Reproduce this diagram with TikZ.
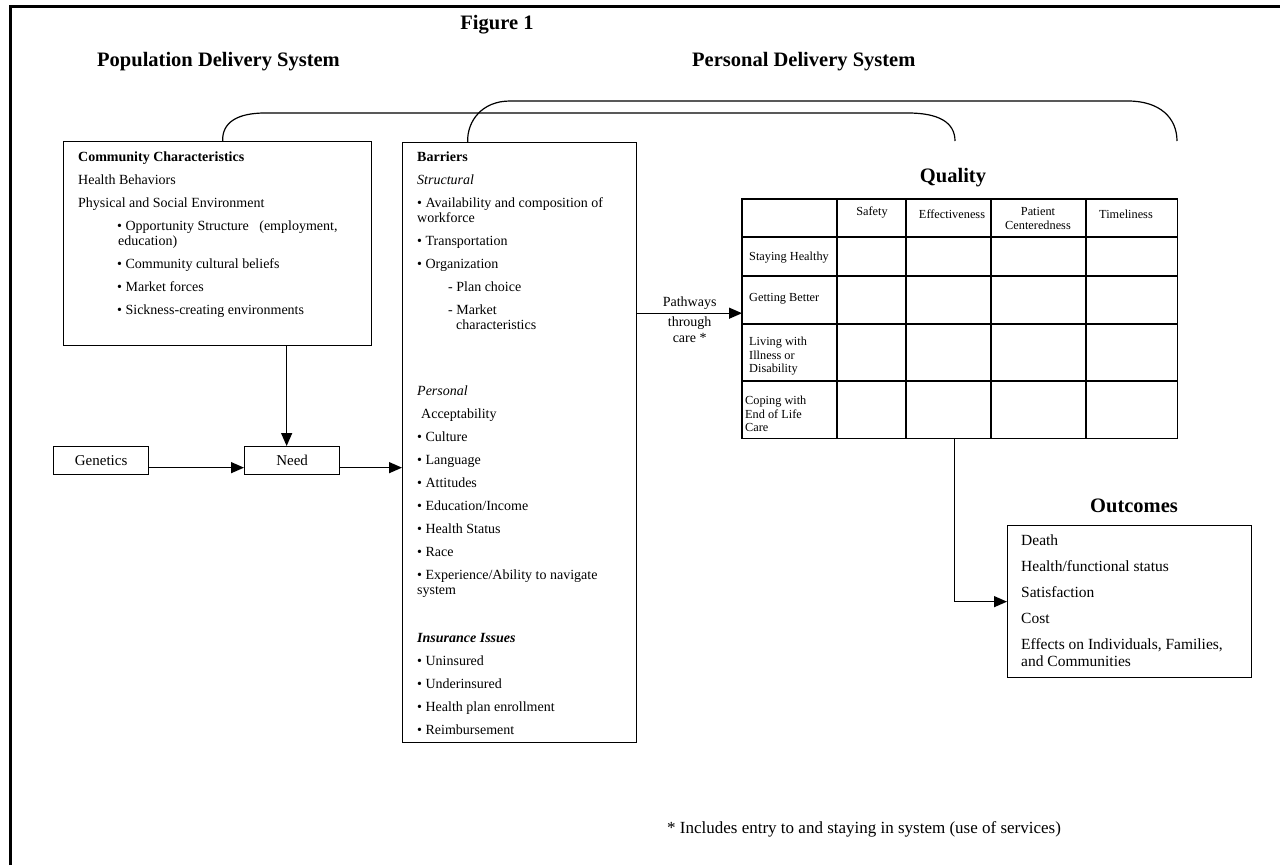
\documentclass[tikz,border=0pt]{standalone}
\usepackage{fontspec}
\setmainfont{Liberation Serif}
\usetikzlibrary{arrows.meta}
\newcommand{\bodyfont}{\fontsize{14}{15}\selectfont}
\newcommand{\headfont}{\fontsize{20.5}{24}\selectfont\bfseries}
\newcommand{\cellfont}{\fontsize{12.3}{13.5}\selectfont}
\newcommand{\outfont}{\fontsize{15.5}{17}\selectfont}
\tikzset{
  box/.style={draw, line width=1.3pt, inner sep=0pt},
  txt/.style={inner sep=0pt, align=left, font=\bodyfont},
  flow/.style={line width=1.3pt, -{Triangle[length=13pt,width=11pt]}},
  bracket/.style={line width=1.2pt},
  tblline/.style={line width=1.8pt},
}

\begin{document}
\begin{tikzpicture}[x=1pt,y=-1pt]
            \useasboundingbox (0,0) rectangle (1280,865);
            % Frame
            \draw[line width=3pt] (10,865) -- (10,6) -- (1280,6);

            % Headings
            \node[font=\headfont] (fig) at (497,25) {Figure 1};
            \node[font=\headfont, anchor=west, inner sep=0pt] (popl) at (97,62) {Population Delivery System};
            \node[font=\headfont, anchor=west, inner sep=0pt] (pers) at (692,62) {Personal Delivery System};

            % Boxes
            \node[box, minimum width=308pt, minimum height=204pt, anchor=north west] (comm) at (63,141) {};
            \node[box, minimum width=234pt, minimum height=600pt, anchor=north west] (barr) at (402,142) {};
            \node[box, minimum width=95pt, minimum height=28pt, anchor=north west, font=\fontsize{15}{17}\selectfont] (gen) at (53,446) {Genetics};
            \node[box, minimum width=95pt, minimum height=28pt, anchor=north west, font=\fontsize{15}{17}\selectfont] (need) at (244,446) {Need};
            \node[box, minimum width=244pt, minimum height=152pt, anchor=north west] (outc) at (1007,525) {};

            % Box texts
            \node[txt, anchor=north west] (commtxt) at (78,151.5) {\textbf{Community Characteristics}\\[8pt]
              Health Behaviors\\[8pt]
              Physical and Social Environment\\[8pt]
              \hspace*{39pt}• Opportunity Structure\ \ \ (employment,\\
              \hspace*{40pt}education)\\[8pt]
              \hspace*{39pt}• Community cultural beliefs\\[8pt]
              \hspace*{39pt}• Market forces\\[8pt]
              \hspace*{39pt}• Sickness-creating environments};
            \node[txt, anchor=north west] (barrtxt) at (417,151.5) {\textbf{Barriers}\\[8pt]
              \textit{Structural}\\[8pt]
              • Availability and composition of\\
              workforce\\[8pt]
              • Transportation\\[8pt]
              • Organization\\[8pt]
              \hspace*{31pt}- Plan choice\\[8pt]
              \hspace*{31pt}- Market\\
              \hspace*{39pt}characteristics\\[51pt]
              \textit{Personal}\\[8pt]
              \hspace*{4pt}Acceptability\\[8pt]
              • Culture\\[8pt]
              • Language\\[8pt]
              • Attitudes\\[8pt]
              • Education/Income\\[8pt]
              • Health Status\\[8pt]
              • Race\\[8pt]
              • Experience/Ability to navigate\\
              system\\[33pt]
              \textbf{\textit{Insurance Issues}}\\[8pt]
              • Uninsured\\[8pt]
              • Underinsured\\[8pt]
              • Health plan enrollment\\[8pt]
              • Reimbursement};
            \node[font=\headfont] (outhead) at (1134,506) {Outcomes};
            \node[txt, font=\outfont, anchor=north west] (outctxt) at (1021,534.8) {Death\\[9pt]
              Health/functional status\\[9pt]
              Satisfaction\\[9pt]
              Cost\\[9pt]
              Effects on Individuals, Families,\\
              and Communities};

            % Quality table
            \node[font=\headfont] (qual) at (953,178) {Quality};
            \node[inner sep=0pt, minimum width=435pt, minimum height=239pt, anchor=north west] (tbl) at (742,199) {};
            \draw[tblline] (tbl.north west) rectangle (tbl.south east);
            \foreach \x in {837,906,991,1086}
                \draw[tblline] (\x,199) -- (\x,438);
            \foreach \y in {237,276,324,381}
                \draw[tblline] (742,\y) -- (1177,\y);
            \begin{scope}[every node/.style={font=\cellfont, inner sep=0pt, align=center}]
                \node (safe) at (872,212) {Safety};
                \node (effc) at (952,214) {Effectiveness};
                \node (ptcn) at (1038,218.5) {Patient\\Centeredness};
                \node (time) at (1126,214) {Timeliness};
                \node[anchor=west, align=left] (stay) at (749,258) {Staying Healthy};
                \node[anchor=west, align=left] (getb) at (749,299) {Getting Better};
                \node[anchor=west, align=left] (livi) at (749,356.5) {Living with\\Illness or\\Disability};
                \node[anchor=west, align=left] (copi) at (745,414) {Coping with\\End of Life\\Care};
            \end{scope}

            % Arrows
            \draw[flow] ([xshift=-5.5pt]need.north |- comm.south) -- ([xshift=-5.5pt]need.north);
            \draw[flow] ([yshift=-7pt]gen.east) -- ([yshift=-7pt]need.west);
            \draw[flow] ([yshift=-7pt]need.east) -- ([yshift=-7pt]need.east -| barr.west);
            \coordinate (pin) at ([yshift=5.5pt]tbl.west);
            \draw[flow] (barr.east |- pin) -- node[above, font=\bodyfont, inner sep=3pt] (path) {Pathways}
                node[below, font=\fontsize{14}{16}\selectfont, align=center, inner sep=3pt] (thru) {through\\care *} (pin);
            \draw[flow] ([xshift=-5.5pt]tbl.south) |- (outc.west);

            % Brackets
            \coordinate (q1) at (955,141);
            \coordinate (q2) at (1177,141);
            \draw[bracket] ([xshift=5pt]comm.north) .. controls (222,122) and (238,113) .. (265,113) -- (908,113)
                .. controls (938,113) and (955,122) .. (q1);
            \draw[bracket] ([xshift=-52pt]barr.north) .. controls (467,121) and (482,101) .. (510,101) -- (1128,101)
                .. controls (1160,101) and (1177,118) .. (q2);

            % Note
            \node[anchor=west, inner sep=0pt, font=\fontsize{17}{19}\selectfont] (note) at (667,829) {* Includes entry to and staying in system (use of services)};
\end{tikzpicture}
\end{document}
